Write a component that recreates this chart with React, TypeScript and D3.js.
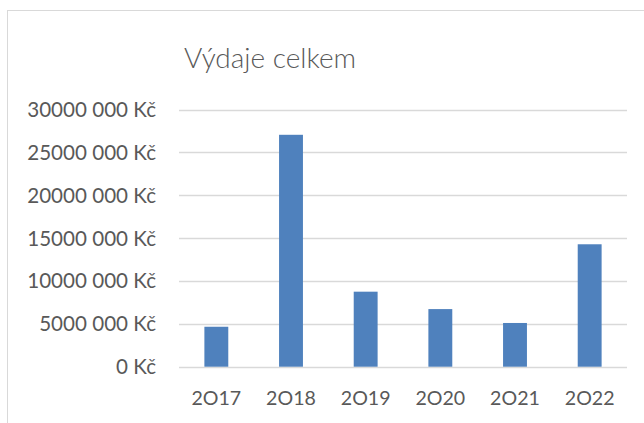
import React from 'react';
import * as d3 from 'd3';

const years = ['2O17', '2O18', '2O19', '2O20', '2O21', '2O22'];
const spending = [4660000, 27050000, 8750000, 6720000, 5100000, 14280000];
const yTicks = [0, 5000000, 10000000, 15000000, 20000000, 25000000, 30000000];

const W = 644;
const H = 423;
const font = 'Lato, "Open Sans", sans-serif';
const textColor = '#595959';

const fmt = (v: number) => {
  if (v === 0) return '0 Kč';
  const s = String(v);
  return `${s.slice(0, s.length - 3)} ${s.slice(-3)} Kč`;
};

export default function App() {
  const x = d3.scaleBand().domain(years).range([179, 627]).paddingInner(0.68).paddingOuter(0.34);
  const y = d3.scaleLinear().domain([0, 30000000]).range([366.7, 109.5]);

  return (
    <svg width={W} height={H} style={{ position: 'absolute', left: 0, top: 0, background: '#fff' }}>
      <rect x={7.5} y={10.5} width={700} height={500} fill="#fff" stroke="#d9d9d9" />
      <text x={270} y={68} textAnchor="middle" fontFamily={font} fontWeight={300} fontSize={28} fill={textColor}>
        Výdaje celkem
      </text>
      {yTicks.map(t => (
        <g key={t}>
          <line x1={179} x2={627} y1={Math.round(y(t)) + 0.5} y2={Math.round(y(t)) + 0.5} stroke="#d9d9d9" strokeWidth={1.3} />
          <text x={156} y={y(t)} dy="0.36em" textAnchor="end" fontFamily={font} fontSize={20.6} fill={textColor}>
            {fmt(t)}
          </text>
        </g>
      ))}
      {years.map((yr, i) => (
        <rect key={yr} x={x(yr)} y={y(spending[i])} width={x.bandwidth()} height={y(0) - y(spending[i])} fill="#4f81bd" />
      ))}
      {years.map(yr => (
        <text key={yr} x={(x(yr) as number) + x.bandwidth() / 2} y={398} dy="0.36em" textAnchor="middle" fontFamily={font} fontSize={19.6} fill={textColor}>
          {yr}
        </text>
      ))}
    </svg>
  );
}
